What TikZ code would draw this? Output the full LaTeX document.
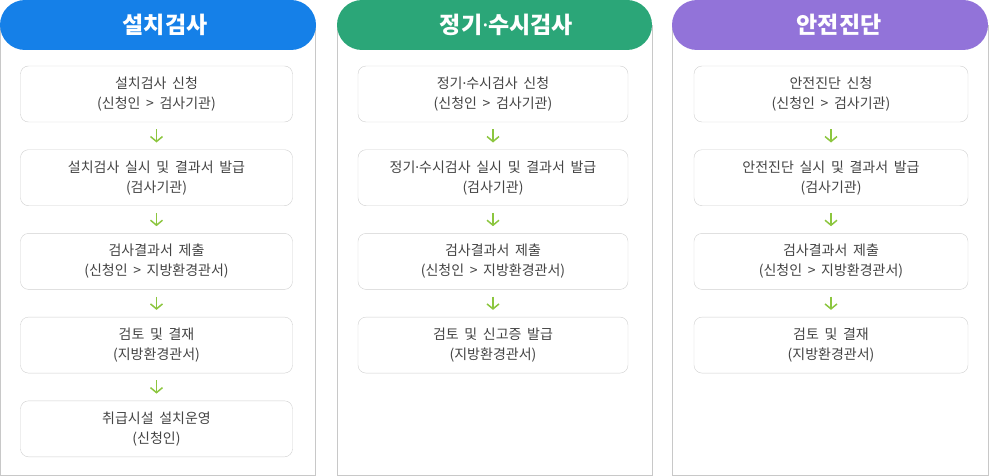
\documentclass[tikz,border=0pt]{standalone}
\usepackage{fontspec}
\setmainfont{Noto Sans CJK KR}[WordSpace=1.8]
\newfontfamily\dotfont{Noto Sans}
\newcommand\mdot{{\dotfont ·}}
\usetikzlibrary{positioning, arrows.meta}
\definecolor{hdblue}{HTML}{1580E8}
\definecolor{hdgreen}{HTML}{2BA678}
\definecolor{hdpurple}{HTML}{9273D9}
\definecolor{flowgreen}{HTML}{8CC63F}
\definecolor{panelgray}{HTML}{C8C8C8}
\definecolor{boxgray}{HTML}{D0D0D0}
\definecolor{txtgray}{HTML}{444444}
\tikzset{
  header/.style={rounded corners=25pt, minimum height=50pt, inner sep=0pt,
    text=white, font=\fontsize{23}{26}\selectfont\bfseries},
  stepbox/.style={draw=boxgray, fill=white, rounded corners=8pt, minimum height=56pt,
    minimum width=272pt, inner sep=0pt, align=center, text=txtgray,
    font=\fontsize{14}{20}\selectfont},
  flow/.style={draw=flowgreen, line width=1.5pt, shorten >=7pt, shorten <=7pt,
    -{Straight Barb[length=5pt, width=12pt]}},
  panel/.style={draw=panelgray, line width=0.8pt}
}

\begin{document}
\begin{tikzpicture}[x=1pt, y=-1pt, node distance=83.7pt, on grid]
  \useasboundingbox (0,0) rectangle (990,476);
  % panels
  \draw[panel] (0.5,25) rectangle (315,475);
  \draw[panel] (337,25) rectangle (652,475);
  \draw[panel] (672,25) rectangle (988,475);
  % headers
  \node[header, fill=hdblue, minimum width=316pt] (h1) at (158,25) {\kern14pt 설치검사};
  \node[header, fill=hdgreen, minimum width=315pt] (h2) at (494.5,25) {\kern24pt 정기\mdot 수시검사};
  \node[header, fill=hdpurple, minimum width=316pt] (h3) at (830,25) {\kern18pt 안전진단};

  % 설치검사
  \node[stepbox] (s1) at (156.5,94) {설치검사 신청\\(신청인 > 검사기관)};
  \node[stepbox] (s2) [below=of s1] {설치검사 실시 및 결과서 발급\\(검사기관)};
  \node[stepbox] (s3) [below=of s2] {검사결과서 제출\\(신청인 > 지방환경관서)};
  \node[stepbox] (s4) [below=of s3] {검토 및 결재\\(지방환경관서)};
  \node[stepbox] (s5) [below=of s4] {취급시설 설치운영\\(신청인)};

  % 정기·수시검사
  \node[stepbox, minimum width=270pt] (p1) at (493,94) {정기\mdot 수시검사 신청\\(신청인 > 검사기관)};
  \node[stepbox, minimum width=270pt] (p2) [below=of p1] {정기\mdot 수시검사 실시 및 결과서 발급\\(검사기관)};
  \node[stepbox, minimum width=270pt] (p3) [below=of p2] {검사결과서 제출\\(신청인 > 지방환경관서)};
  \node[stepbox, minimum width=270pt] (p4) [below=of p3] {검토 및 신고증 발급\\(지방환경관서)};

  % 안전진단
  \node[stepbox, minimum width=274pt] (a1) at (831,94) {안전진단 신청\\(신청인 > 검사기관)};
  \node[stepbox, minimum width=274pt] (a2) [below=of a1] {안전진단 실시 및 결과서 발급\\(검사기관)};
  \node[stepbox, minimum width=274pt] (a3) [below=of a2] {검사결과서 제출\\(신청인 > 지방환경관서)};
  \node[stepbox, minimum width=274pt] (a4) [below=of a3] {검토 및 결재\\(지방환경관서)};

  \draw[flow] (s1) -- (s2);
  \draw[flow] (s2) -- (s3);
  \draw[flow] (s3) -- (s4);
  \draw[flow] (s4) -- (s5);
  \draw[flow] (p1) -- (p2);
  \draw[flow] (p2) -- (p3);
  \draw[flow] (p3) -- (p4);
  \draw[flow] (a1) -- (a2);
  \draw[flow] (a2) -- (a3);
  \draw[flow] (a3) -- (a4);
\end{tikzpicture}
\end{document}
